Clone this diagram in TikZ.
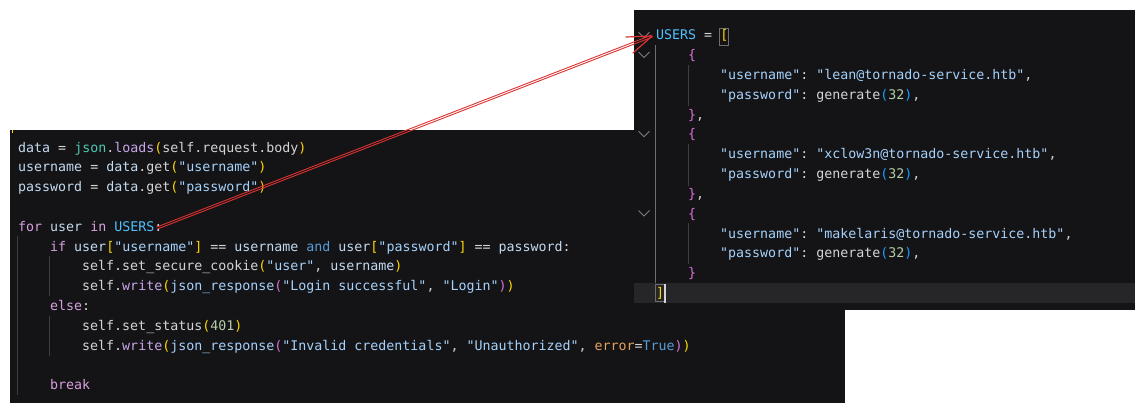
\documentclass[tikz,border=0pt]{standalone}
\usepackage{fontspec}
\newfontfamily\codefnt{DejaVu Sans Mono}
\definecolor{bg}{HTML}{141417}
\definecolor{hl}{HTML}{262628}
\definecolor{tx}{HTML}{D4D4D4}
\definecolor{vr}{HTML}{C2DAF0}
\definecolor{st}{HTML}{A6D1FA}
\definecolor{kw}{HTML}{D8A0DF}
\definecolor{bl}{HTML}{569CD6}
\definecolor{cn}{HTML}{4FC1FF}
\definecolor{tl}{HTML}{4EC9B0}
\definecolor{fn}{HTML}{C9A6E9}
\definecolor{nm}{HTML}{B5CEA8}
\definecolor{org}{HTML}{E3A15F}
\definecolor{bA}{HTML}{FFD700}
\definecolor{bB}{HTML}{DA70D6}
\definecolor{bC}{HTML}{179FFF}
\definecolor{guide}{HTML}{3E3E40}
\definecolor{guideact}{HTML}{6E6E70}
\definecolor{chev}{HTML}{7E7E80}
\definecolor{arr}{HTML}{DC3232}
\newcommand\C[2]{\textcolor{#1}{#2}}
\newcommand\us{\char95\relax}
\tikzset{
  codeline/.style={inner sep=0pt, anchor=base west, text=tx,
    font=\codefnt\fontsize{13.3pt}{16pt}\selectfont\frenchspacing},
  panel/.style={fill=bg, draw=none},
  guideline/.style={draw=guide, line width=1pt},
  guidelineact/.style={draw=guideact, line width=1pt},
  chevron/.style={draw=chev, line width=0.9pt},
  redline/.style={draw=arr, line width=0.9pt},
}
\begin{document}
\begin{tikzpicture}[x=1pt,y=-1pt]
\useasboundingbox[fill=white] (0,0) rectangle (1144,412);
% ---------- left panel ----------
\fill[panel] (10,130) rectangle (845,403);
\draw[bA, line width=1pt] (12,130) -- (12,133);
\draw[guideline] (17,236) -- (17,395);
\draw[guideline] (49.5,256) -- (49.5,296);
\draw[guideline] (49.5,316) -- (49.5,356);
\node[codeline] (l0) at (18,152.0) {\C{vr}{data} = \C{tl}{json}.\C{fn}{loads}\C{bA}{(}self.request.body\C{bA}{)}};
\node[codeline] (l1) at (18,171.8) {\C{vr}{username} = \C{vr}{data}.get\C{bA}{(}\C{st}{"username"}\C{bA}{)}};
\node[codeline] (l2) at (18,191.6) {\C{vr}{password} = \C{vr}{data}.get\C{bA}{(}\C{st}{"password"}\C{bA}{)}};
\node[codeline] (l4) at (18,231.2) {\C{kw}{for} \C{vr}{user} \C{kw}{in} \C{cn}{USERS}:};
\node[codeline] (l5) at (50,251.0) {\C{kw}{if} \C{vr}{user}\C{bA}{[}\C{st}{"username"}\C{bA}{]} == \C{vr}{username} \C{bl}{and} \C{vr}{user}\C{bA}{[}\C{st}{"password"}\C{bA}{]} == \C{vr}{password}:};
\node[codeline] (l6) at (82,270.8) {self.set\us{}secure\us{}cookie\C{bA}{(}\C{st}{"user"}, \C{vr}{username}\C{bA}{)}};
\node[codeline] (l7) at (82,290.6) {self.\C{fn}{write}\C{bA}{(}\C{st}{json\us{}response}\C{bB}{(}\C{st}{"Login successful"}, \C{st}{"Login"}\C{bB}{)}\C{bA}{)}};
\node[codeline] (l8) at (50,310.4) {\C{kw}{else}:};
\node[codeline] (l9) at (82,330.2) {self.set\us{}status\C{bA}{(}\C{nm}{401}\C{bA}{)}};
\node[codeline] (l10) at (82,350.0) {self.\C{fn}{write}\C{bA}{(}\C{st}{json\us{}response}\C{bB}{(}\C{st}{"Invalid credentials"}, \C{st}{"Unauthorized"}, \C{org}{error}=\C{bl}{True}\C{bB}{)}\C{bA}{)}};
\node[codeline] (l12) at (50,389.6) {\C{kw}{break}};
% ---------- right panel ----------
\fill[panel] (634,10) rectangle (1135,310);
\fill[hl] (634,283) rectangle (1135,303);
\draw[guidelineact] (655.5,45) -- (655.5,283);
\draw[guideline] (688,65) -- (688,106);
\draw[guideline] (688,144) -- (688,186);
\draw[guideline] (688,223) -- (688,264);
\draw[chevron] (638.5,32.3) -- (644,37.7) -- (649.5,32.3);
\draw[chevron] (638.5,52.1) -- (644,57.5) -- (649.5,52.1);
\draw[chevron] (638.5,131.3) -- (644,136.7) -- (649.5,131.3);
\draw[chevron] (638.5,210.5) -- (644,215.9) -- (649.5,210.5);
\draw[draw=guideact, line width=0.8pt] (719.6,28.6) rectangle (728.4,45.6);
\draw[draw=guideact, line width=0.8pt] (655.6,284.6) rectangle (664,301.6);
\fill[tx] (663.5,284) rectangle (665.8,302.6);
\node[codeline] (r0) at (656,40.0) {\C{cn}{USERS} = \C{bA}{[}};
\node[codeline] (r1) at (688,59.8) {\C{bB}{\{}};
\node[codeline] (r2) at (720,79.6) {\C{st}{"username"}: \C{st}{"lean@tornado-service.htb"},};
\node[codeline] (r3) at (720,99.4) {\C{st}{"password"}: generate\C{bC}{(}\C{nm}{32}\C{bC}{)},};
\node[codeline] (r4) at (688,119.2) {\C{bB}{\}},};
\node[codeline] (r5) at (688,139.0) {\C{bB}{\{}};
\node[codeline] (r6) at (720,158.8) {\C{st}{"username"}: \C{st}{"xclow3n@tornado-service.htb"},};
\node[codeline] (r7) at (720,178.6) {\C{st}{"password"}: generate\C{bC}{(}\C{nm}{32}\C{bC}{)},};
\node[codeline] (r8) at (688,198.4) {\C{bB}{\}},};
\node[codeline] (r9) at (688,218.2) {\C{bB}{\{}};
\node[codeline] (r10) at (720,238.0) {\C{st}{"username"}: \C{st}{"makelaris@tornado-service.htb"},};
\node[codeline] (r11) at (720,257.8) {\C{st}{"password"}: generate\C{bC}{(}\C{nm}{32}\C{bC}{)},};
\node[codeline] (r12) at (688,277.6) {\C{bB}{\}}};
\node[codeline] (r13) at (656,297.4) {\C{bA}{]}};
% ---------- red arrow ----------
\coordinate (tailA) at (156.6,227.1);
\coordinate (tipA) at (651.6,35.1);
\coordinate (tailB) at (157.4,229.0);
\coordinate (tipB) at (652.4,37.0);
\coordinate (tip) at (652,36);
\draw[redline] (tailA) -- (tipA);
\draw[redline] (tailB) -- (tipB);
\draw[redline, line width=1.2pt, line cap=round] (tip) -- ++(-26,1);
\draw[redline, line width=1.2pt, line cap=round] (tip) -- ++(-19,17);
\end{tikzpicture}
\end{document}
